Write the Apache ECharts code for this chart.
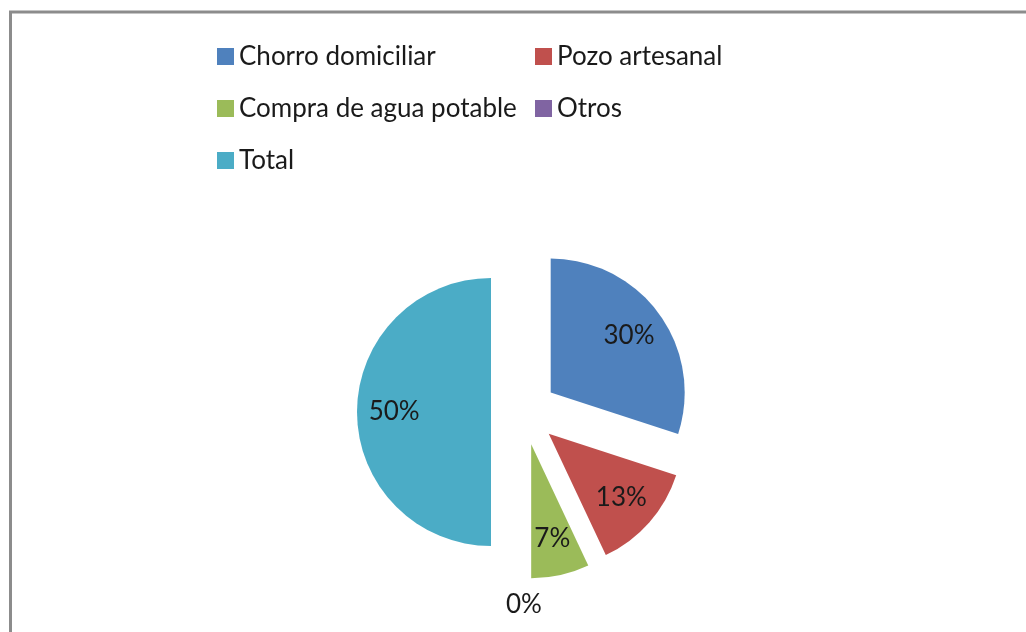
<!DOCTYPE html>
<html>
<head>
<meta charset="utf-8">
<script src="https://cdn.jsdelivr.net/npm/echarts@6/dist/echarts.min.js"></script>
<style>
  html, body { margin: 0; padding: 0; background: #fff; }
  #chart { width: 1026px; height: 632px; }
</style>
</head>
<body>
<div id="chart"></div>
<script>
// categorias y porcentajes
const categories = ['Chorro domiciliar', 'Pozo artesanal', 'Compra de agua potable', 'Otros', 'Total'];
const values = [30, 13, 7, 0, 50];
const colors = ['#4F81BD', '#C0504D', '#9BBB59', '#8064A2', '#4BACC6'];

const FONT = 'Lato';
const center = [524, 412];
const R = 134;

const pieData = categories.map((name, i) => ({
  name: name,
  value: values[i],
  selected: true,
  itemStyle: { color: colors[i] }
}));

// serie transparente solo para poner las etiquetas a ~0.7 del radio
const labelData = categories.map((name, i) => ({
  name: name,
  value: values[i],
  selected: true,
  label: values[i] === 0 ? { position: 'outside' } : { position: 'inside' }
}));

const chart = echarts.init(document.getElementById('chart'));

chart.setOption({
  animation: false,
  color: colors,
  graphic: [
    {
      type: 'rect',
      silent: true,
      shape: { x: 10.5, y: 12, width: 1100, height: 700 },
      style: { fill: 'none', stroke: '#8c8c8c', lineWidth: 3 }
    }
  ],
  legend: {
    data: categories,
    left: 212,
    top: 31,
    width: 640,
    orient: 'horizontal',
    itemWidth: 17,
    itemHeight: 17,
    itemGap: 11,
    icon: 'rect',
    selectedMode: false,
    textStyle: {
      fontFamily: FONT,
      fontSize: 26,
      color: '#1a1a1a',
      width: 285,
      lineHeight: 41
    }
  },
  series: [
    {
      type: 'pie',
      center: center,
      radius: R,
      startAngle: 90,
      clockwise: true,
      selectedMode: 'multiple',
      selectedOffset: 33,
      emphasis: { disabled: true },
      label: { show: false },
      labelLine: { show: false },
      data: pieData
    },
    {
      type: 'pie',
      silent: true,
      center: center,
      radius: [R * 0.4, R],
      startAngle: 90,
      clockwise: true,
      selectedMode: 'multiple',
      selectedOffset: 33,
      emphasis: { disabled: true },
      itemStyle: { color: 'rgba(0,0,0,0)' },
      label: {
        show: true,
        formatter: '{d}%',
        fontFamily: FONT,
        fontSize: 26,
        color: '#1a1a1a'
      },
      labelLine: { show: false, length: 26, length2: 0 },
      labelLayout: (params) => {
        if (params.dataIndex === 3) {
          return { align: 'center', dx: -5 };
        }
        return {};
      },
      data: labelData
    }
  ]
});
</script>
</body>
</html>
